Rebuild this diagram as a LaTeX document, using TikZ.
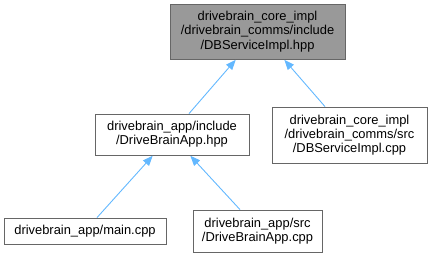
\documentclass[tikz,border=0pt]{standalone}
\usepackage{fontspec}
\setmainfont{Liberation Sans}
\usetikzlibrary{arrows.meta}
\definecolor{edgeblue}{HTML}{63B8FF}
\definecolor{boxline}{HTML}{666666}
\definecolor{curfill}{HTML}{999999}
\begin{document}
\begin{tikzpicture}[x=1bp,y=-1bp,
  file/.style={draw=boxline, line width=0.8bp, fill=white, inner sep=0pt,
    align=center, font=\fontsize{12.9bp}{14.2bp}\selectfont},
  current/.style={file, fill=curfill},
  incl/.style={draw=edgeblue, line width=0.9bp,
    -{Triangle[length=10bp,width=8bp]}, shorten >=0.5bp}]
\useasboundingbox (0,0) rectangle (432,256);
\node[current, minimum width=175bp, minimum height=55bp] (hpp) at (257.5,31.5)
  {drivebrain\_core\_impl\\/drivebrain\_comms/include\\/DBServiceImpl.hpp};
\node[file, minimum width=154bp, minimum height=41bp] (apph) at (172,134.5)
  {drivebrain\_app/include\\/DriveBrainApp.hpp};
\node[file, minimum width=155bp, minimum height=56bp] (cpp) at (349.5,135)
  {drivebrain\_core\_impl\\/drivebrain\_comms/src\\/DBServiceImpl.cpp};
\node[file, minimum width=162bp, minimum height=26bp] (main) at (85,231)
  {drivebrain\_app/main.cpp};
\node[file, minimum width=129bp, minimum height=42bp] (appc) at (257.5,231)
  {drivebrain\_app/src\\/DriveBrainApp.cpp};
\draw[incl] ([xshift=17bp]apph.north) -- ([xshift=-21.5bp]hpp.south);
\draw[incl] ([xshift=-24.5bp]cpp.north) -- ([xshift=26.5bp]hpp.south);
\draw[incl] ([xshift=12bp]main.north) -- ([xshift=-19bp]apph.south);
\draw[incl] ([xshift=-17.5bp]appc.north) -- ([xshift=18bp]apph.south);
\end{tikzpicture}
\end{document}
